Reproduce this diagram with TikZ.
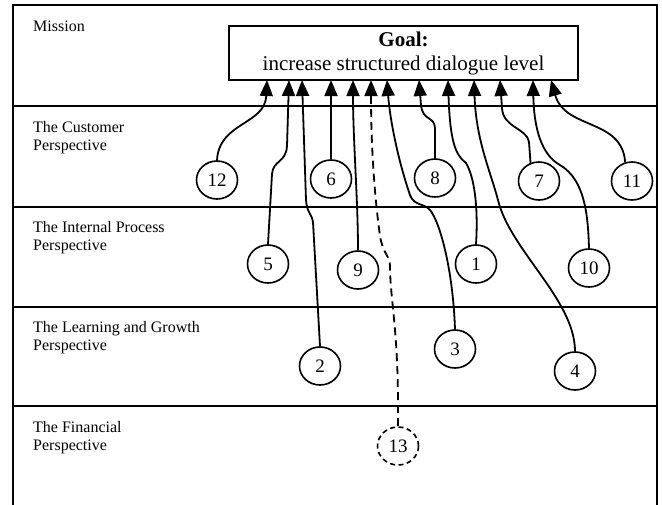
\documentclass[tikz,border=0pt]{standalone}
\usepackage{fontspec}
\setmainfont{Liberation Serif}
\usetikzlibrary{arrows.meta,shapes.geometric}
\begin{document}
\begin{tikzpicture}[x=1pt,y=-1pt,
  lbl/.style={anchor=north west,align=left,inner sep=0pt,font=\fontsize{16}{18}\selectfont},
  num/.style={draw,ellipse,minimum width=41pt,minimum height=38pt,inner sep=0pt,line width=1.6pt,font=\fontsize{19}{19}\selectfont},
  conn/.style={line width=1.8pt,-{Triangle[length=16pt,width=13pt]}},
  dconn/.style={conn,dash pattern=on 8pt off 5pt},
  frameline/.style={line width=2.2pt},
  bandline/.style={line width=1.8pt}]
\useasboundingbox (0,0) rectangle (662,504);
\fill[white] (0,0) rectangle (662,504);
% frame
\draw[frameline] (13,510) -- (13,5) -- (657,5) -- (657,510);
\draw[bandline] (13,106) -- (657,106);
\draw[bandline] (13,207) -- (657,207);
\draw[bandline] (13,307) -- (657,307);
\draw[bandline] (13,406) -- (657,406);
% band labels
\node[lbl] (mission) at (33,21) {Mission};
\node[lbl] (cust) at (33,121) {The Customer\\Perspective};
\node[lbl] (intp) at (33,221.5) {The Internal Process\\Perspective};
\node[lbl] (learn) at (33,321) {The Learning and Growth\\Perspective};
\node[lbl] (fin) at (33,421) {The Financial\\Perspective};
% goal
\node[draw,line width=1.8pt,minimum width=349pt,minimum height=54pt,inner sep=0pt,align=center,font=\fontsize{21}{24}\selectfont] (goal) at (403.5,53) {\textbf{Goal:}\\increase structured dialogue level};
% arrow tip coordinates
\coordinate (a12) at (267,80);
\coordinate (a5) at (289,80);
\coordinate (a2) at (302,80);
\coordinate (a6) at (331,80);
\coordinate (a9) at (353,80);
\coordinate (a13) at (371,80);
\coordinate (a3) at (387,80);
\coordinate (a8) at (419,80);
\coordinate (a1) at (448,80);
\coordinate (a4) at (474,80);
\coordinate (a7) at (500,80);
\coordinate (a10) at (533,80);
\coordinate (a11) at (551,80);
% numbered nodes
\node[num] (n12) at (217,180) {12};
\node[num] (n6) at (331,179) {6};
\node[num] (n8) at (435,178) {8};
\node[num] (n7) at (539,181) {7};
\node[num] (n11) at (632,181) {11};
\node[num] (n5) at (268,264) {5};
\node[num] (n9) at (358,270) {9};
\node[num] (n1) at (476,264) {1};
\node[num] (n10) at (589,268) {10};
\node[num] (n2) at (320,366) {2};
\node[num] (n3) at (455,349) {3};
\node[num] (n4) at (575,371) {4};
\node[num,dash pattern=on 5pt off 3.5pt] (n13) at (398,446) {13};
% connectors
\draw[conn] (n12.north) .. controls (219,122) and (265,125) .. (a12);
\draw[conn] (n5.north) -- (272,174) .. controls (273,160) and (286,163) .. (287,146) -- (a5);
\draw[conn] (n2.north) -- (313,222) .. controls (311,212) and (307,213) .. (306,200) -- (a2);
\draw[conn] (n6.north) -- (a6);
\draw[conn] (n9.north) .. controls (358,200) and (353,140) .. (a9);
\draw[dconn] (n13.north) .. controls (399,330) and (390,300) .. (390,266) .. controls (390,256) and (383,254) .. (380,236) .. controls (375,200) and (371,150) .. (a13);
\draw[conn] (n3.north) .. controls (453,270) and (440,222) .. (430,210) .. controls (424,203) and (414,206) .. (410,195) .. controls (398,160) and (390,120) .. (a3);
\draw[conn] (n8.north) -- (435,128) .. controls (434,115) and (423,122) .. (421,105) -- (a8);
\draw[conn] (n1.north) .. controls (478,215) and (476,180) .. (466,163) .. controls (455,155) and (450,140) .. (a1);
\draw[conn] (n4.north) .. controls (575,300) and (510,250) .. (498,200) .. controls (490,170) and (476,140) .. (a4);
\draw[conn] (n7.115) -- (529,142) .. controls (527,128) and (503,128) .. (502,108) -- (a7);
\draw[conn] (n10.north) .. controls (588,215) and (585,180) .. (560,165) .. controls (542,155) and (534,130) .. (a10);
\draw[conn] (n11.110) .. controls (622,118) and (565,130) .. (a11);
\end{tikzpicture}
\end{document}
